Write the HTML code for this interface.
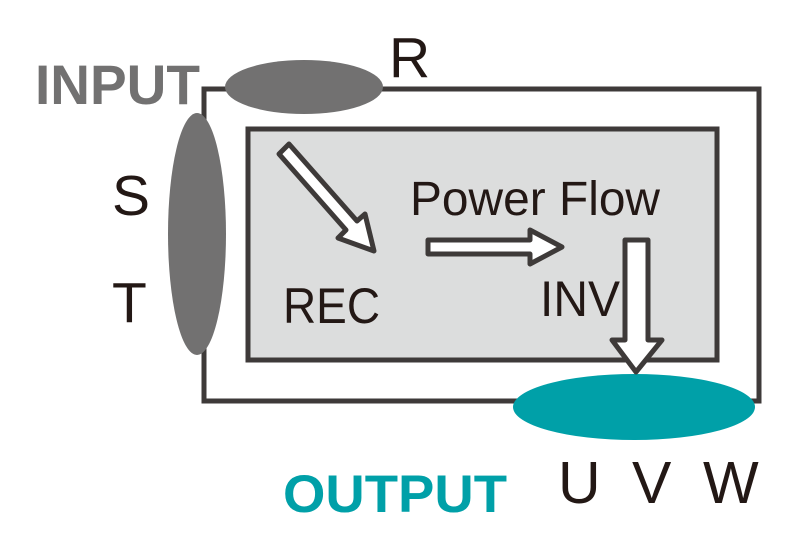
<!DOCTYPE html>
<html><head><style>
html,body{margin:0;padding:0;background:#fff;}
svg{display:block;}
</style></head><body>
<svg width="800" height="550" viewBox="0 0 800 550" xmlns="http://www.w3.org/2000/svg">
<rect x="204" y="89" width="555" height="312" fill="none" stroke="#3e3a39" stroke-width="5"/>
<rect x="248" y="129" width="469" height="231" fill="#dcdddd" stroke="#3e3a39" stroke-width="5"/>
<ellipse cx="304" cy="87" rx="79" ry="27" fill="#727171"/>
<ellipse cx="197" cy="234" rx="29" ry="121" fill="#727171"/>
<ellipse cx="634" cy="407" rx="121" ry="33" fill="#00a0a8"/>
<g fill="#fff" stroke="#3e3a39" stroke-width="5" stroke-linejoin="round">
<polygon points="289,144 357,221 365,214 374,251 338,238 346,230 279,154"/>
<polygon points="428,240 530,240 530,230 562,247 530,264 530,254 428,254"/>
<polygon points="625,240 648,240 648,340 662,340 636,372 612,340 625,340"/>
</g>
<g font-family="Liberation Sans, sans-serif" fill="#231815" font-size="57">
<text x="389" y="77">R</text>
<text x="112" y="215">S</text>
<text x="112" y="322">T</text>
<text x="410" y="215" font-size="48" textLength="250" lengthAdjust="spacingAndGlyphs">Power Flow</text>
<text x="283" y="323" font-size="50" textLength="97" lengthAdjust="spacingAndGlyphs">REC</text>
<text x="540" y="316" font-size="50" textLength="80" lengthAdjust="spacingAndGlyphs">INV</text>
<text x="558" y="503" font-size="59">U</text>
<text x="632" y="503" font-size="59">V</text>
<text x="703" y="503" font-size="59">W</text>
</g>
<text x="35" y="104" font-family="Liberation Sans, sans-serif" font-weight="bold" font-size="56" fill="#727171" textLength="165" lengthAdjust="spacingAndGlyphs">INPUT</text>
<text x="283" y="512" font-family="Liberation Sans, sans-serif" font-weight="bold" font-size="53" fill="#00a0a8" textLength="224" lengthAdjust="spacingAndGlyphs">OUTPUT</text>
</svg>
</body></html>
